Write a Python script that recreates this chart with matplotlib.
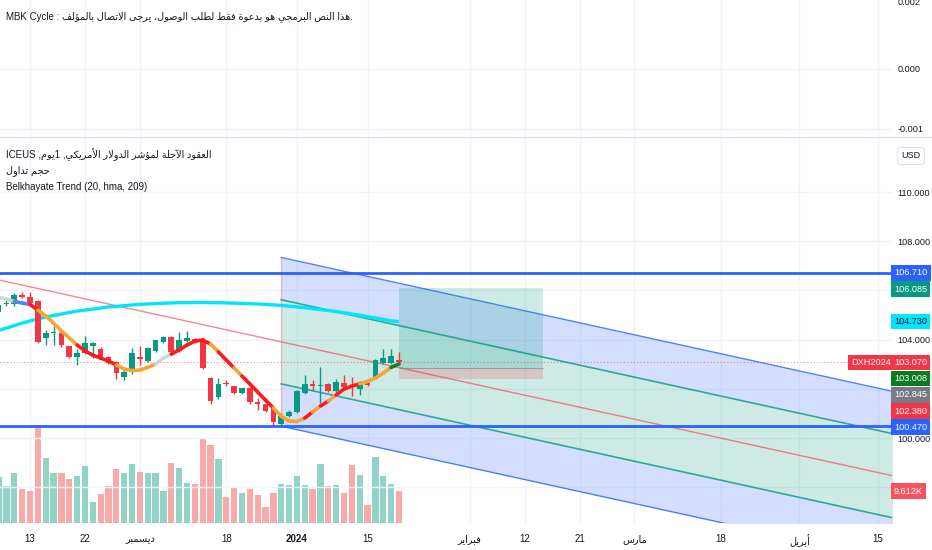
import unicodedata
import numpy as np
import matplotlib
matplotlib.use('Agg')
import matplotlib.pyplot as plt
import matplotlib.transforms as mtransforms
from matplotlib.collections import LineCollection
from matplotlib.lines import Line2D

plt.rcParams['font.family'] = ['Liberation Sans', 'DejaVu Sans']

# ---------------- data ----------------
# daily bars, index 0 = 2023-11-13, last bar = 2024-01-19
bar_idx = np.arange(-4, 48)
opens = [105.12, 105.46, 105.45, 105.82, 105.72, 105.55, 104.07, 104.25, 104.27, 103.72,
         103.30, 103.45, 103.74, 103.62, 103.30, 103.10, 102.50, 102.68, 103.30, 103.13,
         103.55, 103.90, 104.10, 103.55, 103.95, 104.03, 104.00, 102.44, 101.67, 102.25,
         102.10, 101.83, 102.05, 101.45, 101.38, 101.20, 100.57, 100.88, 101.06, 101.83,
         102.18, 102.13, 102.20, 101.90, 102.25, 102.13, 102.00, 102.22, 102.50, 103.05,
         103.05, 103.17]
highs = [105.55, 105.62, 105.90, 105.95, 105.95, 105.62, 104.40, 104.55, 104.35, 103.75,
         103.60, 104.15, 103.90, 103.70, 103.35, 103.15, 102.80, 103.65, 103.75, 103.70,
         104.00, 104.15, 104.15, 104.30, 104.35, 104.05, 104.05, 102.47, 102.45, 102.35,
         102.12, 102.05, 102.08, 101.63, 101.40, 101.25, 101.00, 101.15, 101.95, 102.55,
         102.35, 102.88, 102.25, 102.40, 102.55, 102.50, 102.30, 102.25, 103.20, 103.62,
         103.60, 103.50]
lows = [105.00, 105.35, 105.35, 105.68, 105.45, 103.85, 103.80, 103.80, 103.70, 103.25,
        102.95, 103.40, 103.25, 103.25, 103.00, 102.40, 102.35, 102.60, 102.95, 103.10,
        103.50, 103.85, 103.45, 103.50, 103.90, 103.85, 102.80, 101.40, 101.60, 102.10,
        101.80, 101.80, 101.40, 101.14, 101.05, 100.50, 100.47, 100.85, 101.02, 101.80,
        101.92, 101.42, 101.88, 101.85, 102.02, 101.70, 101.75, 102.10, 102.45, 103.00,
        103.00, 102.95]
closes = [105.40, 105.50, 105.82, 105.73, 105.50, 103.90, 104.27, 104.28, 103.78, 103.30,
          103.45, 103.86, 103.86, 103.30, 103.05, 102.65, 102.68, 103.45, 103.22, 103.66,
          103.98, 104.10, 103.50, 103.98, 104.07, 103.92, 102.85, 101.50, 102.20, 102.21,
          101.83, 102.03, 101.45, 101.38, 101.10, 100.65, 100.90, 101.06, 101.90, 102.20,
          102.12, 102.16, 101.90, 102.28, 102.07, 102.08, 102.20, 102.15, 103.17, 103.25,
          103.33, 103.07]
volume_k = [13.8, 11.1, 15.0, 10.2, 9.6, 28.8, 19.5, 15.0, 15.0, 13.2,
            14.1, 17.1, 6.3, 8.7, 11.1, 16.2, 15.0, 17.7, 15.3, 15.0,
            15.0, 9.6, 18.0, 16.5, 12.0, 11.7, 25.2, 23.4, 19.2, 7.8,
            10.8, 9.0, 10.2, 8.4, 4.8, 9.0, 11.7, 11.4, 14.1, 11.4,
            10.2, 17.7, 11.1, 11.4, 9.0, 17.4, 14.4, 5.4, 19.8, 14.1,
            11.7, 9.612]
# long moving average (cyan)
ma_long = [104.37, 104.47, 104.57, 104.67, 104.76, 104.84, 104.92, 104.98, 105.04, 105.10,
           105.16, 105.20, 105.24, 105.28, 105.33, 105.35, 105.38, 105.41, 105.43, 105.45,
           105.46, 105.48, 105.49, 105.50, 105.50, 105.51, 105.51, 105.50, 105.50, 105.49,
           105.48, 105.47, 105.46, 105.45, 105.43, 105.41, 105.39, 105.36, 105.33, 105.30,
           105.26, 105.22, 105.18, 105.14, 105.09, 105.04, 104.99, 104.93, 104.88, 104.82,
           104.76, 104.73]
# Belkhayate trend (hma 20)
hma = [105.73, 105.65, 105.55, 105.49, 105.43, 105.20, 104.96, 104.67, 104.35, 104.07,
       103.78, 103.54, 103.37, 103.25, 103.13, 102.97, 102.80, 102.74, 102.76, 102.87,
       103.01, 103.25, 103.41, 103.58, 103.78, 103.94, 103.98, 103.82, 103.50, 103.17,
       102.85, 102.52, 102.20, 101.87, 101.54, 101.22, 100.89, 100.69, 100.67, 100.81,
       101.06, 101.30, 101.50, 101.75, 101.99, 102.11, 102.20, 102.30, 102.44, 102.64,
       102.87, 103.008]
# colour of each hma segment ending at bars -3 .. 47
hma_state = ['gray', 'gray', 'blue', 'blue', 'red', 'orange', 'orange', 'orange', 'orange', 'orange',
             'red', 'red', 'red', 'red', 'red', 'orange', 'orange', 'orange', 'orange', 'orange',
             'gray', 'gray', 'red', 'red', 'red', 'red', 'red', 'orange', 'red', 'red',
             'orange', 'red', 'red', 'red', 'red', 'orange', 'orange', 'orange', 'orange', 'red',
             'orange', 'red', 'orange', 'red', 'red', 'red', 'orange', 'orange', 'orange', 'orange',
             'green']

level_high = 106.710
level_low = 100.470
# regression channel
chan_start = 32
chan_mid0 = 103.91
chan_slope = -0.0699
chan_inner = 1.71
chan_outer = 3.43
# long position tool
pos_x = [47, 65.4]
pos_target = 106.085
pos_entry = 102.845
pos_stop = 102.380

tick_dates = ['2023-11-13', '2023-11-22', '2023-12-01', '2023-12-18', '2024-01-02', '2024-01-15',
              '2024-02-01', '2024-02-12', '2024-02-21', '2024-03-01', '2024-03-18', '2024-04-01',
              '2024-04-15']
tick_text = ['13', '22', 'ديسمبر', '18', '2024', '15', 'فبراير', '12', '21', 'مارس', '18', 'أبريل', '15']
holidays = ['2023-12-25', '2024-01-01']
price_ticks = [98, 100, 102, 104, 106, 108, 110]
# labels of 102 and 106 sit under the value boxes
price_tick_labels = ['98.000', '100.000', '', '104.000', '', '108.000', '110.000']

# ---------------- arabic shaping (visual order) ----------------
FORMS, LIG = {}, {}
for cp in range(0xFE70, 0xFEFD):
    d = unicodedata.decomposition(chr(cp)).split()
    if len(d) < 2:
        continue
    base = [chr(int(p, 16)) for p in d[1:]]
    if len(base) == 1:
        FORMS.setdefault(base[0], {})[d[0]] = chr(cp)
    elif len(base) == 2 and base[0] == '\u0644':
        LIG.setdefault(base[1], {})[d[0]] = chr(cp)


def shape(text):
    seq, i = [], 0
    while i < len(text):
        if text[i] == '\u0644' and i + 1 < len(text) and text[i + 1] in LIG:
            seq.append(('LA', text[i + 1]))
            i += 2
        else:
            seq.append(('C', text[i]))
            i += 1

    def join_next(it):
        return it[0] == 'C' and '<initial>' in FORMS.get(it[1], {})

    def join_prev(it):
        return it[0] == 'LA' or '<final>' in FORMS.get(it[1], {})

    out = []
    for k, it in enumerate(seq):
        p = k > 0 and join_next(seq[k - 1]) and join_prev(it)
        q = k + 1 < len(seq) and join_next(it) and join_prev(seq[k + 1])
        if it[0] == 'LA':
            out.append(LIG[it[1]]['<final>' if p else '<isolated>'])
            continue
        f = FORMS.get(it[1])
        if not f:
            out.append(it[1])
            continue
        form = '<medial>' if p and q else '<final>' if p else '<initial>' if q else '<isolated>'
        out.append(f.get(form, f.get('<isolated>')))
    return ''.join(out)


def vis(text):
    return shape(text)[::-1]


# ---------------- colours ----------------
GREEN = '#089981'
RED = '#f23645'
BLUE = '#2962ff'
CYAN = '#00e5ff'
GRID = '#f0f3fa'
TXT = '#131722'
HMA_COL = {'gray': '#d1d4dc', 'blue': '#5b84e6', 'red': '#ff1a1a', 'orange': '#f5a533', 'green': '#1b7f2a'}

W, H = 932, 550
fig = plt.figure(figsize=(W / 100, H / 100), dpi=100)
fig.patch.set_facecolor('white')

ax0 = fig.add_axes([0, 1 - 136 / H, 892 / W, 136 / H])
ax = fig.add_axes([0, 1 - 523 / H, 892 / W, (523 - 137) / H])
axv = ax.twinx()
ax.set_zorder(2)
axv.set_zorder(1)
ax.patch.set_visible(False)

tick_pos = np.busday_count('2023-11-13', tick_dates, holidays=holidays)
xlim = (-3.82, 109.8)
for a in (ax0, ax, axv):
    a.set_xlim(*xlim)
    for s in a.spines.values():
        s.set_visible(False)

# grid
for t in tick_pos:
    ax0.axvline(t, color=GRID, lw=1, zorder=0)
    axv.axvline(t, color=GRID, lw=1, zorder=0)
for p in price_ticks:
    ax.axhline(p, color=GRID, lw=1, zorder=0)

# ---------------- top pane ----------------
ax0.set_ylim(-0.00112, 0.00115)
ax0.yaxis.tick_right()
ax0.set_yticks([0.00112, 0.0, -0.001])
ax0.set_yticklabels(['0.002', '0.000', '-0.001'])
ax0.tick_params(axis='y', length=0, pad=4, labelsize=6.6, labelcolor=TXT)
ax0.set_xticks([])
for v in (0.0, -0.001):
    ax0.axhline(v, color=GRID, lw=1, zorder=0)
fig.text(6 / W, 1 - 17 / H,
         'MBK Cycle : ' + vis('هذا النص البرمجي هو بدعوة فقط لطلب الوصول، يرجى الاتصال بالمؤلف') + '.',
         fontsize=7, color=TXT, va='center', ha='left')
fig.add_artist(Line2D([0, 1], [1 - 136.5 / H] * 2, color='#e0e3eb', lw=1))

# ---------------- main pane ----------------
ax.set_ylim(96.545, 112.236)
axv.set_ylim(0, 116)
axv.set_yticks([])

idx = bar_idx
o, hi, lo, c = map(np.array, (opens, highs, lows, closes))
up = c >= o
cols = np.where(up, GREEN, RED)

# volume
axv.bar(idx, volume_k, width=0.8, color=np.where(up, '#92d3c8', '#f8a9a9'), linewidth=0, zorder=2)

# regression channel
xc = np.array([chan_start, 115.0])
mid = chan_mid0 + chan_slope * (xc - chan_start)
ax.fill_between(xc, mid + chan_inner, mid + chan_outer, color=BLUE, alpha=0.2, lw=0, zorder=1)
ax.fill_between(xc, mid - chan_inner, mid + chan_inner, color=GREEN, alpha=0.2, lw=0, zorder=1)
ax.fill_between(xc, mid - chan_outer, mid - chan_inner, color=BLUE, alpha=0.2, lw=0, zorder=1)
for off in (chan_outer, -chan_outer):
    ax.plot(xc, mid + off, color=BLUE, lw=1, alpha=0.8, zorder=2)
for off in (chan_inner, -chan_inner):
    ax.plot(xc, mid + off, color=GREEN, lw=1.2, alpha=0.8, zorder=2)
xm = np.array([xlim[0] - 1, 115.0])
ax.plot(xm, chan_mid0 + chan_slope * (xm - chan_start), color=RED, lw=1, alpha=0.6, zorder=2)
ax.vlines(chan_start, chan_mid0 - chan_outer, chan_mid0 + chan_outer, color=RED, lw=1, alpha=0.35, zorder=2)

# long position
ax.fill_between(pos_x, pos_entry, pos_target, color=GREEN, alpha=0.2, lw=0, zorder=2)
ax.fill_between(pos_x, pos_stop, pos_entry, color=RED, alpha=0.2, lw=0, zorder=2)
ax.hlines(pos_entry, pos_x[0], pos_x[1], color='#787b86', lw=0.8, alpha=0.6, zorder=2)

# levels and last price line
ax.axhline(level_high, color=BLUE, lw=2, zorder=7)
ax.axhline(level_low, color=BLUE, lw=2, zorder=7)
ax.axhline(c[-1], color=RED, lw=0.8, ls=(0, (1, 2)), alpha=0.6, zorder=2)

# cyan MA
ax.plot(idx, ma_long, color=CYAN, lw=2.4, zorder=3, solid_capstyle='butt')

# candles
ax.vlines(idx, lo, hi, colors=cols, lw=1, zorder=4)
ax.bar(idx, np.maximum(np.abs(c - o), 0.04), bottom=np.minimum(o, c), width=0.72,
       color=cols, linewidth=0, zorder=5)

# belkhayate trend
pts = np.column_stack([idx, hma])
segs = [pts[i - 1:i + 1] for i in range(1, len(pts))]
ax.add_collection(LineCollection(segs, colors=[HMA_COL[s] for s in hma_state],
                                 linewidths=2.6, capstyle='round', zorder=6))

# axes ticks
ax.yaxis.tick_right()
ax.set_yticks(price_ticks)
ax.set_yticklabels(price_tick_labels)
ax.tick_params(axis='y', length=0, pad=4, labelsize=6.6, labelcolor=TXT)
ax.set_xticks(tick_pos)
ax.set_xticklabels([vis(t) if not t.isdigit() else t for t in tick_text])
ax.tick_params(axis='x', length=0, pad=8, labelsize=7, labelcolor=TXT)
for lab in ax.get_xticklabels():
    if lab.get_text() == '2024':
        lab.set_fontweight('bold')

# legend texts
fig.text(6 / W, 1 - 155 / H,
         'ICEUS ,' + vis('يوم') + '1 ,' + vis('العقود الآجلة لمؤشر الدولار الأمريكي'),
         fontsize=7, color=TXT, va='center', ha='left')
fig.text(6 / W, 1 - 171 / H, vis('حجم تداول'), fontsize=7, color=TXT, va='center', ha='left')
fig.text(6 / W, 1 - 187 / H, 'Belkhayate Trend (20, hma, 209)', fontsize=7, color=TXT,
         va='center', ha='left')
fig.text(911 / W, 1 - 156 / H, 'USD', fontsize=6.5, color=TXT, ha='center', va='center',
         bbox=dict(boxstyle='round,pad=0.45,rounding_size=0.3', fc='white', ec='#e0e3eb', lw=0.8))

# price scale labels (stacked like the platform does)
tr = mtransforms.blended_transform_factory(ax.transAxes, ax.transData)
px_per_unit = ax.get_position().height * H / (112.236 - 96.545)
step = 16.2 / px_per_unit
labels = [(level_high, BLUE, 'white'), (pos_target, GREEN, 'white'), (ma_long[-1], CYAN, TXT),
          (c[-1], RED, 'white'), (hma[-1], '#0b7a20', 'white'), (pos_entry, '#787b86', 'white'),
          (pos_stop, RED, 'white'), (level_low, BLUE, 'white')]
last = None
for v, bg, fg in sorted(labels, key=lambda t: -t[0]):
    y = v if last is None else min(v, last - step)
    last = y
    ax.text(1 + 2 / 892, y, '%.3f' % v, transform=tr, ha='left', va='center', fontsize=6.6,
            color=fg, clip_on=False, zorder=10,
            bbox=dict(boxstyle='square,pad=0.36', fc=bg, ec='none'))
ax.text(1 - 1 / 892, c[-1], 'DXH2024', transform=tr, ha='right', va='center', fontsize=6.6,
        color='white', clip_on=False, zorder=10, bbox=dict(boxstyle='square,pad=0.36', fc=RED, ec='none'))
trv = mtransforms.blended_transform_factory(ax.transAxes, axv.transData)
ax.text(1 + 2 / 892, volume_k[-1], '%.3fK' % volume_k[-1], transform=trv, ha='left', va='center',
        fontsize=6.6, color='white', clip_on=False, zorder=10,
        bbox=dict(boxstyle='square,pad=0.36', fc='#f7525f', ec='none'))

fig.savefig('out.png', dpi=100, facecolor='white')
